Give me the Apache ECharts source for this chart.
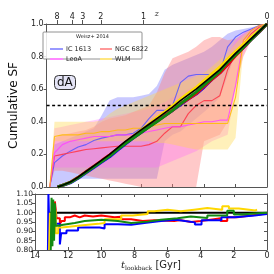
<!DOCTYPE html>
<html><head><meta charset="utf-8">
<script src="https://cdn.jsdelivr.net/npm/echarts@6/dist/echarts.min.js"></script>
<style>html,body{margin:0;padding:0;background:#fff}#c{width:274px;height:274px}</style>
</head><body><div id="c"></div>
<script>
// ---------- data (lookback time in Gyr) ----------
var bandT      = [13.8,13.5,13,12.5,12,11.5,11,10.5,10,9.5,9,8.5,8,7.5,7,6.5,6,5.5,5,4.5,4,3.5,3,2.5,2,1.5,1,0.5,0];
var ic1613Hi   = [0,.26,.28,.30,.32,.34,.36,.44,.53,.55,.55,.55,.56,.57,.62,.72,.75,.77,.79,.81,.83,.86,.90,.94,.96,.97,.98,.99,1.0];
var ic1613Lo   = [0,0,0,.03,.05,.05,.05,.05,.05,.05,.05,.05,.05,.05,.05,.28,.32,.34,.38,.42,.46,.50,.55,.68,.82,.90,.94,.97,1.0];
var ic1613Med  = [0,.15,.19,.22,.245,.26,.285,.30,.31,.32,.32,.33,.36,.42,.47,.47,.50,.64,.68,.69,.69,.69,.70,.86,.92,.95,.97,.99,1.0];
var ngc6822Hi  = [0,.30,.32,.33,.34,.35,.37,.40,.42,.43,.44,.46,.48,.50,.58,.70,.79,.81,.83,.86,.90,.92,.92,.90,.91,.94,.97,.99,1.0];
var ngc6822Lo  = [0,.10,.10,.09,.08,.07,.06,.05,.04,.03,.02,.01,0,0,0,0,0,0,0,0,.28,.30,.32,.40,.62,.80,.90,.96,1.0];
var ngc6822Med = [0,.19,.20,.21,.22,.23,.235,.24,.245,.25,.25,.25,.25,.26,.28,.33,.37,.37,.45,.50,.53,.53,.56,.72,.82,.88,.94,.98,1.0];
var leoaHi     = [0,.36,.37,.38,.39,.40,.41,.42,.43,.44,.45,.46,.47,.48,.50,.52,.55,.57,.60,.62,.64,.68,.72,.80,.90,.95,.97,.99,1.0];
var leoaLo     = [0,.12,.12,.12,.12,.12,.12,.12,.12,.12,.12,.12,.12,.12,.12,.14,.16,.18,.20,.22,.25,.28,.30,.32,.60,.82,.90,.96,1.0];
var leoaMed    = [0,.21,.26,.28,.29,.30,.31,.31,.31,.32,.32,.32,.33,.34,.35,.36,.37,.37,.38,.39,.40,.40,.41,.41,.62,.90,.96,.99,1.0];
var wlmHi      = [0,.40,.40,.40,.40,.40,.40,.41,.45,.48,.50,.52,.54,.56,.58,.60,.62,.64,.66,.68,.70,.74,.78,.82,.88,.93,.97,.99,1.0];
var wlmLo      = [0,.28,.28,.28,.28,.28,.28,.28,.28,.28,.28,.28,.28,.28,.27,.27,.26,.25,.24,.23,.23,.23,.23,.23,.30,.85,.92,.97,1.0];
var wlmMed     = [0,.31,.32,.32,.32,.33,.33,.34,.34,.35,.35,.36,.36,.37,.38,.39,.39,.39,.39,.39,.39,.39,.39,.39,.55,.90,.96,.99,1.0];

// model (thick) cumulative SFHs
var modelT     = [13.3,13.0,12.5,12.0,11.5,11.0,10.5,10.0,9.5,9.0,8.5,8.0,7.5,7.0,6.5,6.0,5.5,5.0,4.5,4.0,3.5,3.0,2.5,2.0,1.5,1.0,0.5,0.0];
var modelBlack = [0.0,.010,.030,.060,.095,.130,.165,.200,.240,.280,.315,.350,.385,.420,.455,.490,.530,.565,.600,.640,.680,.720,.770,.820,.865,.910,.955,1.0];
var modelGreen = [0.0,.010,.028,.057,.090,.124,.157,.190,.229,.266,.300,.334,.368,.400,.435,.470,.510,.546,.582,.625,.667,.710,.765,.810,.857,.905,.953,1.0];
var modelYellow= [0.0,.010,.028,.056,.089,.122,.156,.192,.232,.273,.310,.347,.386,.425,.460,.497,.538,.575,.610,.652,.694,.735,.785,.830,.875,.920,.960,1.0];
var modelBlue  = [0.0,.009,.025,.054,.087,.120,.153,.185,.225,.264,.300,.334,.370,.403,.437,.470,.505,.540,.570,.612,.660,.700,.752,.810,.855,.905,.950,1.0];
var modelRed   = [0.0,.010,.029,.059,.093,.127,.162,.196,.234,.272,.304,.337,.370,.403,.437,.471,.510,.540,.573,.618,.660,.700,.752,.805,.855,.905,.952,1.0];

// ratio panel (step lines) [t, ratio]
var ratioBlack = [[13.15,1.0],[0,1.0]];
var ratioBlue  = [[13.22,0.80],[13.19,1.10],[13.15,0.96],[12.95,0.94],[12.5,0.83],[12.42,0.89],[12.1,0.905],[11.4,0.92],[10.1,0.915],[9.8,0.938],[9.0,0.935],[8.2,0.945],[7.4,0.955],[6.4,0.962],[5.5,0.955],[4.95,0.948],[4.35,0.937],[3.95,0.96],[2.75,0.975],[1.95,0.985],[0.75,0.993],[0,0.993]];
var ratioRed   = [[13.0,0.98],[12.8,1.06],[12.7,0.97],[12.5,0.94],[12.4,0.955],[12.2,0.975],[11.9,0.985],[11.6,0.975],[11.3,0.985],[11.0,0.98],[10.5,0.985],[10.0,0.975],[9.2,0.978],[8.8,0.965],[8.2,0.955],[7.5,0.96],[6.8,0.955],[5.6,0.96],[5.2,0.95],[4.6,0.955],[4.0,0.965],[3.2,0.97],[2.8,0.955],[2.4,0.975],[1.8,0.985],[1.0,0.99],[0.5,0.995],[0,0.995]];
var ratioYellow= [[13.15,0.80],[13.1,1.0],[13.0,0.82],[12.9,1.01],[12.75,0.89],[12.6,0.92],[12.4,0.93],[11.4,0.94],[10.2,0.945],[9.8,0.965],[8.8,0.985],[8.1,0.993],[7.2,1.007],[6.8,1.016],[6.0,1.007],[5.2,1.016],[4.4,1.025],[3.6,1.016],[2.7,1.035],[2.3,1.022],[1.7,1.012],[0.7,1.016],[0.6,1.016]];
var ratioGreen = [[13.05,0.80],[13.0,1.08],[12.95,0.82],[12.9,1.07],[12.85,0.85],[12.8,1.05],[12.75,0.93],[12.6,0.935],[12.3,0.945],[11.6,0.955],[11.0,0.962],[10.0,0.955],[9.0,0.945],[8.2,0.952],[7.2,0.962],[6.4,0.97],[5.4,0.98],[4.6,0.972],[3.6,0.985],[2.4,1.01],[2.0,0.99],[1.5,0.995],[0.8,1.0],[0,1.0]];

var halfLevel  = [[14,0.5],[0,0.5]];
var zTickPos   = [13.34,12.37,11.71,10.56,7.84,0.0];
var zTickLabels= ['8','4','3','2','1','0'];
var galaxyNames= ['IC 1613','NGC 6822','LeoA','WLM'];

// ---------- chart ----------
var FONT = 'DejaVu Sans';
var AX = {show:true, lineStyle:{color:'#555', width:1}, onZero:false};
function pairs(xs, ys){ return xs.map(function(t,i){ return [t, ys[i]]; }); }
function band(lo, hi, color, op){
  return {type:'custom', xAxisIndex:0, yAxisIndex:0, silent:true, z:1, clip:true,
    data:[[bandT[0], lo[0]]],
    renderItem:function(params, api){
      var pts = [], i;
      for(i=0;i<bandT.length;i++) pts.push(api.coord([bandT[i], hi[i]]));
      for(i=bandT.length-1;i>=0;i--) pts.push(api.coord([bandT[i], lo[i]]));
      return {type:'polygon', shape:{points:pts}, style:{fill:color, opacity:op, stroke:null}};
    }};
}
function med(name, ys, color){
  return {name:name, type:'line', xAxisIndex:0, yAxisIndex:0, data:pairs(bandT, ys), symbol:'none', lineStyle:{color:color, width:1.1, opacity:0.85}, itemStyle:{color:color}, silent:true, z:3};
}
function model(ys, color, w, z){
  return {type:'line', xAxisIndex:0, yAxisIndex:0, data:pairs(modelT, ys), symbol:'none', lineStyle:{color:color, width:w}, silent:true, z:z};
}
function ratio(d, color, w, z){
  return {type:'line', xAxisIndex:2, yAxisIndex:2, data:d, step:'end', symbol:'none', lineStyle:{color:color, width:w}, silent:true, z:z};
}

var series = [
  band(ic1613Lo, ic1613Hi, '#7f7fff', 0.42),
  band(ngc6822Lo, ngc6822Hi, '#ff7f7f', 0.42),
  band(leoaLo, leoaHi, '#ff66ff', 0.32),
  band(wlmLo, wlmHi, '#ffd84a', 0.38),
  med(galaxyNames[0], ic1613Med, '#5555ff'),
  med(galaxyNames[1], ngc6822Med, '#ff3344'),
  med(galaxyNames[2], leoaMed, '#ff44ff'),
  med(galaxyNames[3], wlmMed, '#ffbb00'),
  {type:'line', xAxisIndex:0, yAxisIndex:0, data:halfLevel, symbol:'none', lineStyle:{color:'#000', width:1.3, type:[3,2.5]}, silent:true, z:4},
  model(modelYellow, '#ffdd00', 3, 5),
  model(modelBlue, '#0000ff', 3, 5),
  model(modelRed, '#ff0000', 3, 5),
  model(modelGreen, '#118811', 3, 6),
  model(modelBlack, '#000000', 1.6, 7),
  ratio(ratioBlack, '#000', 2, 2),
  ratio(ratioRed, '#ff0000', 2, 3),
  ratio(ratioBlue, '#0000ff', 2, 3),
  ratio(ratioYellow, '#ffd700', 2, 4),
  ratio(ratioGreen, '#138a13', 2, 5)
];

var chart = echarts.init(document.getElementById('c'), null, {renderer:'canvas'});
chart.setOption({
  animation:false,
  backgroundColor:'#fff',
  textStyle:{fontFamily:FONT},
  title:{text:'dA', left:54, top:75, padding:[2,3,1,3], backgroundColor:'#e4e4f6', borderColor:'#333', borderWidth:1, borderRadius:4,
         textStyle:{fontSize:12, fontWeight:'normal', fontFamily:FONT, color:'#111'}},
  grid:[{left:35, top:24, width:232, height:163}, {left:35, top:194, width:232, height:56}],
  legend:[
    {left:45, top:40, orient:'vertical', itemGap:2, itemWidth:13, itemHeight:2, icon:'rect', z:10, selectedMode:false,
     textStyle:{fontSize:6.5, lineHeight:8, color:'#222', fontFamily:FONT, padding:[0,0,0,-2]},
     data:[{name:galaxyNames[0], itemStyle:{color:'#9999ff'}}, {name:galaxyNames[2], itemStyle:{color:'#ff88ff'}}]},
    {left:95, top:40, orient:'vertical', itemGap:2, itemWidth:12, itemHeight:2, icon:'rect', z:10, selectedMode:false,
     textStyle:{fontSize:6.5, lineHeight:8, color:'#222', fontFamily:FONT, padding:[0,0,0,-2]},
     data:[{name:galaxyNames[1], itemStyle:{color:'#ff9999'}}, {name:galaxyNames[3], itemStyle:{color:'#ffe680'}}]}
  ],
  graphic:[
    {type:'rect', z:5, shape:{x:43, y:32, width:99, height:27, r:1}, style:{fill:'rgba(255,255,255,0.85)', stroke:'#777', lineWidth:0.8}},
    {type:'text', z:6, x:92.5, y:36.5, style:{text:'Weisz+ 2014', fontSize:5, fill:'#222', align:'center', verticalAlign:'middle', fontFamily:FONT}}
  ],
  xAxis:[
    {gridIndex:0, type:'value', min:0, max:14, interval:2, inverse:true, position:'bottom', axisLine:AX,
     axisTick:{inside:true, length:3, lineStyle:{color:'#555'}}, axisLabel:{show:false}, splitLine:{show:false}},
    {gridIndex:0, type:'value', min:0, max:14, inverse:true, position:'top', axisLine:AX,
     axisTick:{customValues:zTickPos, length:4, lineStyle:{color:'#555'}},
     axisLabel:{customValues:zTickPos, fontSize:8, margin:3, color:'#222', fontFamily:FONT,
       formatter:function(v){ for(var i=0;i<zTickPos.length;i++){ if(Math.abs(zTickPos[i]-v)<1e-6) return zTickLabels[i]; } return ''; }},
     splitLine:{show:false},
     name:'z', nameLocation:'middle', nameGap:6, nameMoveOverlap:false,
     nameTextStyle:{fontSize:8, fontStyle:'italic', fontFamily:'DejaVu Serif', color:'#222'}},
    {gridIndex:1, type:'value', min:0, max:14, interval:2, inverse:true, position:'bottom', axisLine:AX,
     axisTick:{inside:true, length:3, lineStyle:{color:'#555'}},
     axisLabel:{fontSize:8, margin:2, color:'#222', fontFamily:FONT}, splitLine:{show:false},
     name:'{t|t}{s|lookback}{n| [Gyr]}', nameLocation:'middle', nameGap:8,
     nameTextStyle:{rich:{
       t:{fontSize:10, fontStyle:'italic', fontFamily:'DejaVu Serif', color:'#222'},
       s:{fontSize:6, fontFamily:'DejaVu Serif', color:'#222', padding:[6,0,0,0]},
       n:{fontSize:10, fontFamily:FONT, color:'#222'}}}},
    {gridIndex:1, type:'value', min:0, max:14, interval:2, inverse:true, position:'top', axisLine:AX,
     axisTick:{inside:true, length:3, lineStyle:{color:'#555'}}, axisLabel:{show:false}, splitLine:{show:false}}
  ],
  yAxis:[
    {gridIndex:0, type:'value', min:0, max:1, interval:0.2, position:'left', axisLine:AX,
     axisTick:{length:3, lineStyle:{color:'#555'}},
     axisLabel:{fontSize:8, margin:3, color:'#222', fontFamily:FONT, formatter:function(v){return v.toFixed(1);}},
     splitLine:{show:false},
     name:'Cumulative SF', nameLocation:'middle', nameGap:16, nameTextStyle:{fontSize:12, color:'#111', fontFamily:FONT}},
    {gridIndex:0, type:'value', min:0, max:1, interval:0.2, position:'right', axisLine:AX,
     axisTick:{inside:true, length:3, lineStyle:{color:'#555'}}, axisLabel:{show:false}, splitLine:{show:false}},
    {gridIndex:1, type:'value', min:0.8, max:1.1, interval:0.05, position:'left', axisLine:AX,
     axisTick:{length:3, lineStyle:{color:'#555'}},
     axisLabel:{fontSize:7.5, margin:2, color:'#222', fontFamily:FONT, formatter:function(v){return v.toFixed(2);}},
     splitLine:{show:false}},
    {gridIndex:1, type:'value', min:0.8, max:1.1, interval:0.05, position:'right', axisLine:AX,
     axisTick:{inside:true, length:3, lineStyle:{color:'#555'}}, axisLabel:{show:false}, splitLine:{show:false}}
  ],
  series:series
});
</script></body></html>
